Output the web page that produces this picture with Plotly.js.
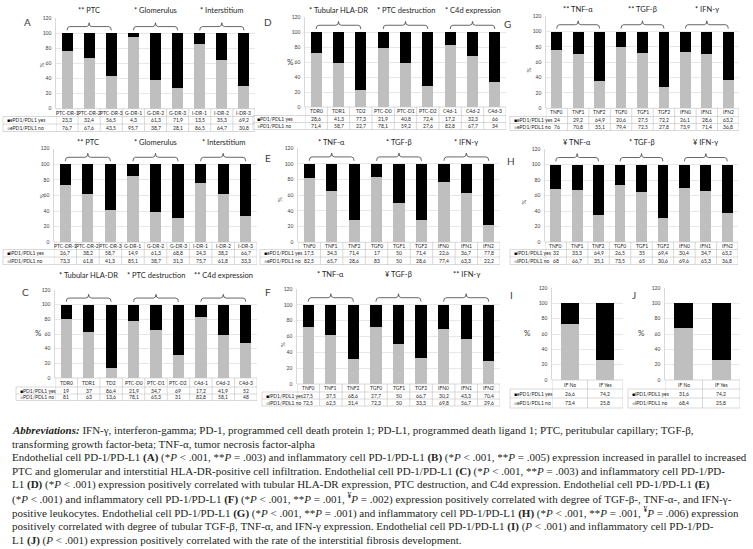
<!DOCTYPE html>
<html><head><meta charset="utf-8">
<script src="https://cdn.plot.ly/plotly-3.0.1.min.js"></script>
<style>html,body{margin:0;padding:0;background:#fff}</style>
</head><body><div id="chart" style="width:753px;height:549px"></div>
<script>
// ---------- data ----------
const catsDR = ['PTC-DR-1','PTC-DR-2','PTC-DR-3','G-DR-1','G-DR-2','G-DR-3','I-DR-1','I-DR-2','I-DR-3'];
const catsHist = ['TDR0','TDR1','TD2','PTC-D0','PTC-D1','PTC-D2','C4d-1','C4d-2','C4d-3'];
const catsCyt = ['TNF0','TNF1','TNF2','TGF0','TGF1','TGF2','IFN0','IFN1','IFN2'];
const catsIF = ['IF No','IF Yes'];

const yesA = [23.3, 32.4, 56.5, 4.3, 61.3, 71.9, 13.5, 35.3, 69.2];
const noA  = [76.7, 67.6, 43.5, 95.7, 38.7, 28.1, 86.5, 64.7, 30.8];
const yesB = [26.7, 38.2, 58.7, 14.9, 61.3, 68.8, 24.3, 38.2, 66.7];
const noB  = [73.3, 61.8, 41.3, 85.1, 38.7, 31.3, 75.7, 61.8, 33.3];
const yesC = [19, 37, 86.4, 21.9, 34.7, 69, 17.2, 41.9, 52];
const noC  = [81, 63, 13.6, 78.1, 65.3, 31, 82.8, 58.1, 48];
const yesD = [28.6, 41.3, 77.3, 21.9, 40.8, 72.4, 17.2, 32.3, 66];
const noD  = [71.4, 58.7, 22.7, 78.1, 59.2, 27.6, 82.8, 67.7, 34];
const yesE = [17.5, 34.3, 71.4, 17, 50, 71.4, 22.6, 36.7, 77.8];
const noE  = [82.5, 65.7, 28.6, 83, 50, 28.6, 77.4, 63.3, 22.2];
const yesF = [27.5, 37.5, 68.6, 27.7, 50, 66.7, 30.2, 43.3, 70.4];
const noF  = [72.5, 62.5, 31.4, 72.3, 50, 33.3, 69.8, 56.7, 29.6];
const yesG = [24, 29.2, 64.9, 20.6, 27.5, 72.2, 26.1, 28.6, 63.2];
const noG  = [76, 70.8, 35.1, 79.4, 72.5, 27.8, 73.9, 71.4, 36.8];
const yesH = [32, 33.3, 64.9, 26.5, 35, 69.4, 30.4, 34.7, 63.2];
const noH  = [68, 66.7, 35.1, 73.5, 65, 30.6, 69.6, 65.3, 36.8];
const yesI = [26.6, 74.2];
const noI  = [73.4, 25.8];
const yesJ = [31.6, 74.2];
const noJ  = [68.4, 25.8];

const titlesA = ['** PTC','* Glomerulus','* Interstitium'];
const titlesB = ['** PTC','* Glomerulus','* Interstitium'];
const titlesC = ['* Tubular HLA-DR','* PTC destruction','** C4d expression'];
const titlesD = ['* Tubular HLA-DR','* PTC destruction','* C4d expression'];
const titlesE = ['* TNF-α','* TGF-β','* IFN-γ'];
const titlesF = ['* TNF-α','¥ TGF-β','** IFN-γ'];
const titlesG = ['** TNF-α','** TGF-β','* IFN-γ'];
const titlesH = ['¥ TNF-α','* TGF-β','¥ IFN-γ'];

const captionLines = [
 '<b><i>Abbreviations:</i></b> IFN-γ, interferon-gamma; PD-1, programmed cell death protein 1; PD-L1, programmed death ligand 1; PTC, peritubular capillary; TGF-β,',
 'transforming growth factor-beta; TNF-α, tumor necrosis factor-alpha',
 'Endothelial cell PD-1/PD-L1 <b>(A)</b> (*<i>P</i> &lt; .001, **<i>P</i> = .003) and inflammatory cell PD-1/PD-L1 <b>(B)</b> (*<i>P</i> &lt; .001, **<i>P</i> = .005) expression increased in parallel to increased',
 'PTC and glomerular and interstitial HLA-DR-positive cell infiltration. Endothelial cell PD-1/PD-L1 <b>(C)</b> (*<i>P</i> &lt; .001, **<i>P</i> = .003) and inflammatory cell PD-1/PD-',
 'L1 <b>(D)</b> (*<i>P</i> &lt; .001) expression positively correlated with tubular HLA-DR expression, PTC destruction, and C4d expression. Endothelial cell PD-1/PD-L1 <b>(E)</b>',
 '(*<i>P</i> &lt; .001) and inflammatory cell PD-1/PD-L1 <b>(F)</b> (*<i>P</i> &lt; .001, **<i>P</i> = .001, <sup>¥</sup><i>P</i> = .002) expression positively correlated with degree of TGF-β-, TNF-α-, and IFN-γ-',
 'positive leukocytes. Endothelial cell PD-1/PD-L1 <b>(G)</b> (*<i>P</i> &lt; .001, **<i>P</i> = .001) and inflammatory cell PD-1/PD-L1 <b>(H)</b> (*<i>P</i> &lt; .001, **<i>P</i> = .001, <sup>¥</sup><i>P</i> = .006) expression',
 'positively correlated with degree of tubular TGF-β, TNF-α, and IFN-γ expression. Endothelial cell PD-1/PD-L1 <b>(I)</b> (<i>P</i> &lt; .001) and inflammatory cell PD-1/PD-',
 'L1 <b>(J)</b> (<i>P</i> &lt; .001) expression positively correlated with the rate of the interstitial fibrosis development.'
];

// ---------- layout config ----------
const W = 753, H = 549;
const px = v => v / W, py = v => 1 - v / H;
const FONT = 'Lato, "Open Sans", sans-serif';
const GRAY = '#bfbfbf', BLACK = '#000000', BORDER = '#bfbfbf', TXT = '#262626';

const panels = [
 {lab:'A', cats:catsDR, yes:yesA, no:noA, leg:'ePD1/PDL1', titles:titlesA,
  g:{x0:56,x1:255,yt:18.3,yb:108.7,tl:3,rows:[108.7,116.5,124,131.5],lx:22,ly:22,pcx:36,pcy:65,rot:true,ty:11}},
 {lab:'', cats:catsDR, yes:yesB, no:noB, leg:'iPD1/PDL1', titles:titlesB,
  g:{x0:54,x1:257,yt:148.7,yb:242.3,tl:3,rows:[242.3,249.5,257,264.5],lx:0,ly:0,pcx:35,pcy:196,rot:true,ty:143}},
 {lab:'C', cats:catsHist, yes:yesC, no:noC, leg:'PD1/PDL1', titles:titlesC,
  g:{x0:55,x1:257,yt:290,yb:378,tl:16,rows:[378,387,394,400.5],lx:20,ly:292,pcx:33,pcy:333,rot:false,ty:275}},
 {lab:'D', cats:catsHist, yes:yesD, no:noD, leg:'PD1/PDL1', titles:titlesD,
  g:{x0:305,x1:506,yt:17,yb:107,tl:253,rows:[107,115.5,122.5,129.5],lx:268,ly:22,pcx:290,pcy:62,rot:false,ty:11}},
 {lab:'E', cats:catsCyt, yes:yesE, no:noE, leg:'ePD1/PDL1', titles:titlesE,
  g:{x0:298,x1:500,yt:148.3,yb:242.3,tl:260,rows:[242.3,249.5,257,264.5],lx:268,ly:158,pcx:279,pcy:200,rot:true,ty:143}},
 {lab:'F', cats:catsCyt, yes:yesF, no:noF, leg:'iPD1/PDL1', titles:titlesF,
  g:{x0:297,x1:500,yt:289,yb:384,tl:262,rows:[384,392,399,406],lx:268,ly:292,pcx:282,pcy:345,rot:true,ty:274}},
 {lab:'G', cats:catsCyt, yes:yesG, no:noG, leg:'ePD1/PDL1', titles:titlesG,
  g:{x0:546,x1:739,yt:16.3,yb:108.3,tl:510,rows:[108.3,116.5,123.5,130.5],lx:513,ly:24,pcx:533,pcy:70,rot:true,ty:10}},
 {lab:'H', cats:catsCyt, yes:yesH, no:noH, leg:'iPD1/PDL1', titles:titlesH,
  g:{x0:545,x1:738,yt:149,yb:242,tl:510,rows:[242,249.5,257,264.5],lx:517,ly:161,pcx:528,pcy:202,rot:true,ty:142}},
 {lab:'I', cats:catsIF, yes:yesI, no:noI, leg:'ePD1/PDL1', titles:null,
  g:{x0:552,x1:623,yt:288,yb:380,tl:510,rows:[380,389,398,408],lx:515,ly:295,pcx:533,pcy:333,rot:false,ty:0}},
 {lab:'J', cats:catsIF, yes:yesJ, no:noJ, leg:'iPD1/PDL1', titles:null,
  g:{x0:665,x1:740,yt:288,yb:380,tl:628,rows:[380,389,398,408],lx:638,ly:295,pcx:647,pcy:333,rot:false,ty:0}}
];

const fmt = v => String(v).replace('.', ',');
const data = [], shapes = [], annotations = [];
const layout = {
  width: W, height: H, margin: {l:0, r:0, t:0, b:0}, showlegend: false,
  barmode: 'stack', bargap: 0.5, paper_bgcolor: '#fff', plot_bgcolor: '#fff',
  font: {family: FONT, color: TXT}, hovermode: false
};
const ln = o => shapes.push(Object.assign({type:'line', layer:'above', line:{color:BORDER, width:0.6}}, o));
const ann = o => annotations.push(Object.assign({showarrow:false, font:{family:FONT, size:5, color:TXT}}, o));

panels.forEach((p, i) => {
  const n = i + 1, xa = n === 1 ? 'x' : 'x' + n, ya = n === 1 ? 'y' : 'y' + n;
  const g = p.g, N = p.cats.length, r = g.rows;
  data.push({type:'bar', x:p.cats, y:p.no, xaxis:xa, yaxis:ya, marker:{color:GRAY}, hoverinfo:'skip'});
  data.push({type:'bar', x:p.cats, y:p.yes, xaxis:xa, yaxis:ya, marker:{color:BLACK}, hoverinfo:'skip'});
  layout['xaxis' + (n === 1 ? '' : n)] = {domain:[px(g.x0), px(g.x1)], anchor:ya, type:'category',
    range:[-0.5, N - 0.5], showticklabels:false, ticks:'', showgrid:false, zeroline:false, showline:false, fixedrange:true};
  layout['yaxis' + (n === 1 ? '' : n)] = {domain:[py(g.yb), py(g.yt)], anchor:xa, range:[0, 120], dtick:20, tick0:0,
    showgrid:true, gridcolor:'#d9d9d9', gridwidth:0.6, zeroline:false, showline:true, linecolor:BORDER, linewidth:0.6,
    ticks:'', ticklabelstandoff:3, tickfont:{size:5, color:'#404040', family:FONT}, fixedrange:true};

  // table lines
  r.forEach(yv => ln({xref:xa, yref:'paper', x0:-0.5, x1:N - 0.5, y0:py(yv), y1:py(yv)}));
  [r[1], r[2], r[3]].forEach(yv => ln({xref:'paper', yref:'paper', x0:px(g.tl), x1:px(g.x0), y0:py(yv), y1:py(yv)}));
  for (let k = 0; k <= N; k++) ln({xref:xa, yref:'paper', x0:k - 0.5, x1:k - 0.5, y0:py(r[0]), y1:py(r[3])});
  ln({xref:'paper', yref:'paper', x0:px(g.tl), x1:px(g.tl), y0:py(r[1]), y1:py(r[3])});

  // table text
  p.cats.forEach((c, k) => {
    ann({xref:xa, yref:'paper', x:c, y:py((r[0] + r[1]) / 2), yanchor:'middle', text:c});
    ann({xref:xa, yref:'paper', x:c, y:py((r[1] + r[2]) / 2), yanchor:'middle', text:fmt(p.yes[k])});
    ann({xref:xa, yref:'paper', x:c, y:py((r[2] + r[3]) / 2), yanchor:'middle', text:fmt(p.no[k])});
  });
  ann({xref:'paper', yref:'paper', x:px(g.tl + 1.5), xanchor:'left', y:py((r[1] + r[2]) / 2), yanchor:'middle',
       text:'<span style="color:#000000">■</span>' + p.leg + ' yes'});
  ann({xref:'paper', yref:'paper', x:px(g.tl + 1.5), xanchor:'left', y:py((r[2] + r[3]) / 2), yanchor:'middle',
       text:'<span style="color:' + GRAY + '">■</span>' + p.leg + ' no'});

  // group titles and braces
  if (p.titles) {
    p.titles.forEach((t, gi) => {
      const a = 3 * gi, c = a + 1, b = a + 2, d = 0.12;
      shapes.push({type:'path', xref:xa, yref:ya, layer:'above', line:{color:'#404040', width:0.8},
        path:`M ${a},104 Q ${a},109 ${a + d},109 L ${c - d},109 Q ${c},109 ${c},114 Q ${c},109 ${c + d},109 L ${b - d},109 Q ${b},109 ${b},104`});
      ann({xref:xa, yref:'paper', x:p.cats[c], y:py(g.ty), yanchor:'middle', text:t,
           font:{family:FONT, size:7.5, color:TXT}});
    });
  }
  // panel letter
  if (p.lab) ann({xref:'paper', yref:'paper', x:px(g.lx), y:py(g.ly), yanchor:'middle', text:p.lab,
                  font:{family:FONT, size:10, color:'#404040'}});
  // % label
  ann({xref:'paper', yref:'paper', x:px(g.pcx), y:py(g.pcy), yanchor:'middle', text:'%',
       textangle:g.rot ? -90 : 0, font:{family:FONT, size:g.rot ? 6 : 8, color:'#404040'}});
});

// caption
captionLines.forEach((t, k) => {
  annotations.push({xref:'paper', yref:'paper', x:px(10), xanchor:'left', y:py(430 + k * 13.75), yanchor:'middle',
    showarrow:false, text:t, font:{family:'"Liberation Serif", "DejaVu Serif", serif', size:11, color:'#231f20'}});
});

layout.shapes = shapes;
layout.annotations = annotations;
Plotly.newPlot('chart', data, layout, {staticPlot:true, displayModeBar:false});
</script></body></html>
